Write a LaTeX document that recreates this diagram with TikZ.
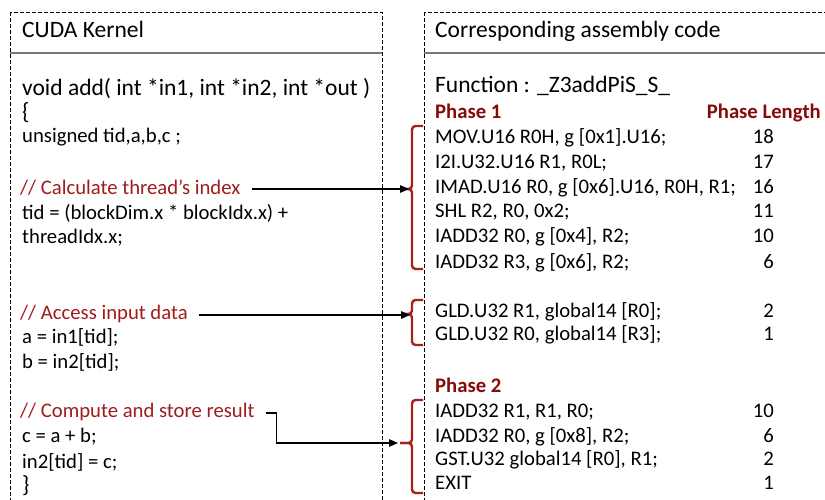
\documentclass[tikz,border=0pt]{standalone}
\usepackage{fontspec}
\setmainfont{Carlito}
\usetikzlibrary{arrows.meta}
\definecolor{cmtred}{RGB}{160,28,28}
\definecolor{phred}{RGB}{135,10,10}
\definecolor{brred}{RGB}{168,32,28}
\definecolor{hdrgray}{RGB}{120,120,120}
\tikzset{
  big/.style={anchor=base west,inner sep=0pt,font=\fontsize{23.5}{28}\selectfont},
  small/.style={anchor=base west,inner sep=0pt,font=\fontsize{20.7}{25}\selectfont},
  cmt/.style={small,text=cmtred},
  phase/.style={small,text=phred,font=\fontsize{20.7}{25}\selectfont\bfseries},
  num/.style={anchor=base east,inner sep=0pt,font=\fontsize{20.7}{25}\selectfont},
  dbox/.style={draw=black,line width=0.9pt,dash pattern=on 4pt off 2pt},
  hdr/.style={draw=hdrgray,line width=1.8pt},
  bracebr/.style={draw=brred,line width=2.4pt,rounded corners=3.5pt},
  arr/.style={draw=black,line width=1.4pt,-{Triangle[length=9pt,width=7.5pt]}},
}
\begin{document}
\begin{tikzpicture}[x=1pt,y=-1pt]
\useasboundingbox (0,0) rectangle (825,499);
\clip (0,0) rectangle (825,499);
% boxes
\draw[dbox] (10,12) rectangle (382,520);
\draw[dbox] (424,12) rectangle (850,520);
\draw[hdr] (10,53) -- (382,53);
\draw[hdr] (424,53) -- (850,53);
% left code
\node[big] (t1) at (22,37) {CUDA Kernel};
\node[big] (l1) at (22,95) {void add( int *in1, int *in2, int *out )};
\node[big] (l2) at (22,119) {\{};
\node[small] (l3) at (22,142) {unsigned tid,a,b,c ;};
\node[cmt] (cm1) at (20,194) {// Calculate thread’s index};
\node[small] (l4) at (22,219) {tid = (blockDim.x * blockIdx.x) +};
\node[small] (l5) at (22,243) {threadIdx.x;};
\node[cmt] (cm2) at (20,319) {// Access input data};
\node[small] (l6) at (22,343) {a = in1[tid];};
\node[small] (l7) at (22,368) {b = in2[tid];};
\node[cmt] (cm3) at (20,417) {// Compute and store result};
\node[small] (l8) at (22,442) {c = a + b;};
\node[small] (l9) at (22,468) {in2[tid] = c;};
\node[big] (l10) at (22,492) {\}};
% right code
\node[big] (t2) at (435,37) {Corresponding assembly code};
\node[big] (fn) at (435,92) {Function : \_Z3addPiS\_S\_};
\node[phase] (p1) at (435,118) {Phase 1};
\node[phase,anchor=base east] (pl) at (821,118) {Phase Length};
\node[small] (r1) at (435,143) {MOV.U16 R0H, g [0x1].U16;};
\node[num] (n1) at (774,143) {18};
\node[small] (r2) at (435,168) {I2I.U32.U16 R1, R0L;};
\node[num] (n2) at (774,168) {17};
\node[small] (r3) at (435,193) {IMAD.U16 R0, g [0x6].U16, R0H, R1;};
\node[num] (n3) at (774,193) {16};
\node[small] (r4) at (435,217) {SHL R2, R0, 0x2;};
\node[num] (n4) at (774,217) {11};
\node[small] (r5) at (435,242) {IADD32 R0, g [0x4], R2;};
\node[num] (n5) at (774,242) {10};
\node[small] (r6) at (435,268) {IADD32 R3, g [0x6], R2;};
\node[num] (n6) at (774,268) {6};
\node[small] (r7) at (435,317) {GLD.U32 R1, global14 [R0];};
\node[num] (n7) at (774,317) {2};
\node[small] (r8) at (435,340) {GLD.U32 R0, global14 [R3];};
\node[num] (n8) at (774,340) {1};
\node[phase] (p2) at (435,392) {Phase 2};
\node[small] (r9) at (435,417) {IADD32 R1, R1, R0;};
\node[num] (n9) at (774,417) {10};
\node[small] (r10) at (435,442) {IADD32 R0, g [0x8], R2;};
\node[num] (n10) at (774,442) {6};
\node[small] (r11) at (435,465) {GST.U32 global14 [R0], R1;};
\node[num] (n11) at (774,465) {2};
\node[small] (r12) at (435,489) {EXIT};
\node[num] (n12) at (774,489) {1};
% braces
\coordinate (b1) at (400,189);
\coordinate (b2) at (401,314);
\coordinate (b3) at (400,443);
\draw[bracebr] (423,126) -- (412,126) -- (412,189) -- (b1);
\draw[bracebr] (b1) -- (412,189) -- (412,269) -- (423,269);
\draw[bracebr] (423,300) -- (412,300) -- (412,314) -- (b2);
\draw[bracebr] (b2) -- (412,314) -- (412,345) -- (423,345);
\draw[bracebr] (423,400) -- (412,400) -- (412,443) -- (b3);
\draw[bracebr] (b3) -- (412,443) -- (412,493) -- (423,493);
% arrows
\draw[arr,shorten >=2pt] ([xshift=11pt,yshift=5pt]cm1.base east) -- ([xshift=11pt,yshift=5pt]cm1.base east -| b1);
\draw[arr,shorten >=2pt] ([xshift=11pt,yshift=4pt]cm2.base east) -- ([xshift=11pt,yshift=4pt]cm2.base east -| b2);
\draw[arr,shorten >=2pt] ([xshift=11pt,yshift=4pt]cm3.base east) -- ++(11,0) |- (b3);
\end{tikzpicture}
\end{document}
